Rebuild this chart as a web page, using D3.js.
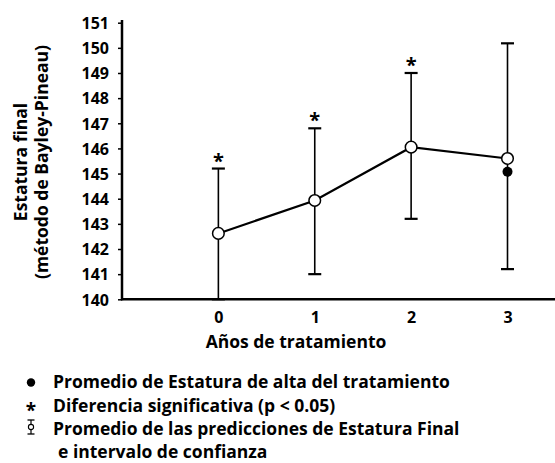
<!DOCTYPE html>
<html>
<head>
<meta charset="utf-8">
<script src="https://cdn.jsdelivr.net/npm/d3@7"></script>
<style>
  html, body { margin: 0; padding: 0; background: #fff; }
  svg text { font-family: "Open Sans", "DejaVu Sans", sans-serif; font-weight: 700; fill: #000; }
</style>
</head>
<body>
<svg id="chart" width="555" height="463"></svg>
<script>
// Years of treatment
const years = [0, 1, 2, 3];
// Mean predicted final height (Bayley-Pineau) and confidence interval
const meanPred = [142.62, 143.93, 146.05, 145.6];
const ciLow = [140.0, 141.0, 143.2, 141.2];
const ciHigh = [145.2, 146.8, 149.0, 150.18];
// Significant difference flag (p < 0.05)
const significant = [true, true, true, false];
// Mean height at discharge (only year 3)
const dischargeYear = [3];
const dischargeHeight = [145.07];
// Y-axis ticks
const yTicks = [140, 141, 142, 143, 144, 145, 146, 147, 148, 149, 150, 151];

const legendItems = [
  "Promedio de Estatura de alta del tratamiento",
  "Diferencia significativa (p < 0.05)",
  "Promedio de las predicciones de Estatura Final",
  "e intervalo de confianza"
];

const svg = d3.select("#chart");

const x = d3.scaleLinear().domain([-1, 3]).range([122, 507.5]);
const y = d3.scaleLinear().domain([140, 151]).range([299.3, 22.7]);

// Y axis
const yAxis = svg.append("g")
  .attr("transform", "translate(122,0)")
  .call(d3.axisLeft(y).tickValues(yTicks).tickFormat(d3.format("d")).tickSize(4).tickPadding(9));
yAxis.select(".domain").remove();
yAxis.selectAll(".tick line").attr("stroke", "#000").attr("stroke-width", 1.5);
yAxis.selectAll(".tick text").style("font-size", "16px").attr("dy", "0.36em");
svg.append("line")
  .attr("x1", 122).attr("x2", 122)
  .attr("y1", 20).attr("y2", y(140) + 1)
  .attr("stroke", "#000").attr("stroke-width", 2.5);

// X axis
const xAxis = svg.append("g")
  .attr("transform", `translate(0,${y(140)})`)
  .call(d3.axisBottom(x).tickValues(years).tickFormat(d3.format("d")).tickSize(0).tickPadding(12));
xAxis.select(".domain").remove();
xAxis.selectAll(".tick text").style("font-size", "16px");
svg.append("line")
  .attr("x1", 121).attr("x2", 555)
  .attr("y1", y(140)).attr("y2", y(140))
  .attr("stroke", "#000").attr("stroke-width", 2.5);

// Axis titles
svg.append("text")
  .attr("x", 296).attr("y", 348)
  .attr("text-anchor", "middle")
  .style("font-size", "17.5px")
  .text("Años de tratamiento");

const yTitle = svg.append("text")
  .attr("transform", "translate(0,162) rotate(-90)")
  .attr("text-anchor", "middle")
  .style("font-size", "17.5px");
yTitle.append("tspan").attr("x", 0).attr("y", 27).text("Estatura final");
yTitle.append("tspan").attr("x", 0).attr("y", 48).text("(método de Bayley-Pineau)");

// Error bars
const bars = svg.append("g");
years.forEach((yr, i) => {
  const cx = x(yr);
  bars.append("line")
    .attr("x1", cx).attr("x2", cx)
    .attr("y1", y(ciLow[i])).attr("y2", y(ciHigh[i]))
    .attr("stroke", "#000").attr("stroke-width", 1.6);
  [ciLow[i], ciHigh[i]].forEach(v => {
    bars.append("line")
      .attr("x1", cx - 6.5).attr("x2", cx + 6.5)
      .attr("y1", y(v)).attr("y2", y(v))
      .attr("stroke", "#000").attr("stroke-width", 2.2);
  });
  if (significant[i]) {
    bars.append("text")
      .attr("x", cx).attr("y", y(ciHigh[i]) - 1)
      .attr("text-anchor", "middle")
      .style("font-size", "20px")
      .text("*");
  }
});

// Mean prediction line
svg.append("path")
  .datum(years.map((yr, i) => [yr, meanPred[i]]))
  .attr("fill", "none")
  .attr("stroke", "#000")
  .attr("stroke-width", 2.2)
  .attr("d", d3.line().x(d => x(d[0])).y(d => y(d[1])));

// Discharge height marker
svg.selectAll(".discharge")
  .data(dischargeYear.map((yr, i) => [yr, dischargeHeight[i]]))
  .join("circle")
  .attr("cx", d => x(d[0])).attr("cy", d => y(d[1]))
  .attr("r", 5).attr("fill", "#000");

// Mean prediction markers
svg.selectAll(".pred")
  .data(years.map((yr, i) => [yr, meanPred[i]]))
  .join("circle")
  .attr("cx", d => x(d[0])).attr("cy", d => y(d[1]))
  .attr("r", 5.8).attr("fill", "#fff")
  .attr("stroke", "#000").attr("stroke-width", 1.5);

// Legend
const lg = svg.append("g");
const baselines = [388, 411.5, 435, 458];
const textX = [53, 53, 53, 58];
legendItems.forEach((t, i) => {
  lg.append("text")
    .attr("x", textX[i]).attr("y", baselines[i])
    .style("font-size", "17.5px")
    .text(t);
});
// Legend symbols
lg.append("circle").attr("cx", 31).attr("cy", 382.5).attr("r", 4.2).attr("fill", "#000");
lg.append("text").attr("x", 31).attr("y", 417).attr("text-anchor", "middle")
  .style("font-size", "19px").text("*");
// small error bar glyph
const gx = 31;
lg.append("line").attr("x1", gx).attr("x2", gx).attr("y1", 420).attr("y2", 434).attr("stroke", "#000").attr("stroke-width", 1.2);
lg.append("line").attr("x1", gx - 3.5).attr("x2", gx + 3.5).attr("y1", 420).attr("y2", 420).attr("stroke", "#000").attr("stroke-width", 1.3);
lg.append("line").attr("x1", gx - 3.5).attr("x2", gx + 3.5).attr("y1", 434).attr("y2", 434).attr("stroke", "#000").attr("stroke-width", 1.3);
lg.append("circle").attr("cx", gx).attr("cy", 427).attr("r", 2.6).attr("fill", "#fff").attr("stroke", "#000").attr("stroke-width", 1.1);
</script>
</body>
</html>
